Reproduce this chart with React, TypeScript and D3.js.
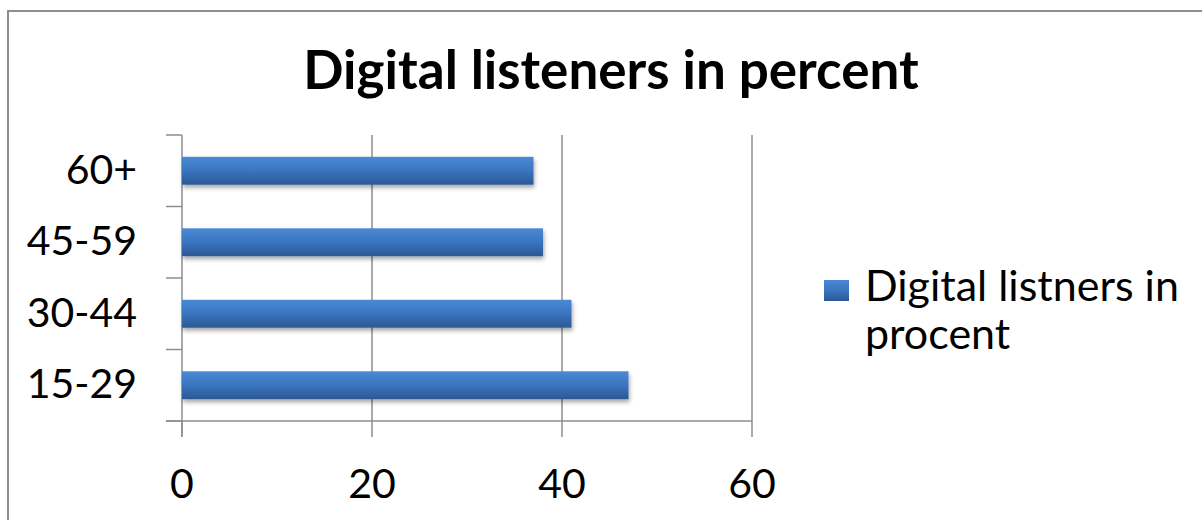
import React from "react";
import * as d3 from "d3";

const categories = ["15-29", "30-44", "45-59", "60+"];
const values = [47, 41, 38, 37];
const xTicks = [0, 20, 40, 60];
const title = "Digital listeners in percent";
const legendLines = ["Digital listners in", "procent"];

const W = 1202;
const H = 520;
const FONT = "Lato, 'Open Sans', sans-serif";
const GRAY = "#8e8e8e";

export default function App() {
  const x = d3.scaleLinear().domain([0, 60]).range([182, 752]);
  const y = d3
    .scaleBand<string>()
    .domain([...categories].reverse())
    .range([135, 421])
    .padding(0);
  const bw = y.bandwidth();
  const barH = bw * 0.39;

  return (
    <svg
      width={W}
      height={H}
      style={{ position: "absolute", left: 0, top: 0, background: "#fff" }}
    >
      <defs>
        <linearGradient id="barGrad" x1="0" y1="0" x2="0" y2="1">
          <stop offset="0%" stopColor="#4a89d4" />
          <stop offset="45%" stopColor="#3b77c2" />
          <stop offset="100%" stopColor="#2b5894" />
        </linearGradient>
        <filter id="shadow" x="-5%" y="-30%" width="110%" height="180%">
          <feDropShadow dx="1" dy="3" stdDeviation="2.2" floodColor="#000" floodOpacity="0.35" />
        </filter>
      </defs>

      {/* chart border */}
      <rect x={8} y={11} width={1210} height={530} fill="#fff" stroke={GRAY} strokeWidth={2} />

      {/* title */}
      <text
        x={611}
        y={89}
        textAnchor="middle"
        fontFamily={FONT}
        fontWeight="bold"
        fontSize={53}
        fill="#000"
      >
        {title}
      </text>

      {/* gridlines */}
      {xTicks.slice(1).map((t) => (
        <line key={"g" + t} x1={x(t)} x2={x(t)} y1={135} y2={421} stroke={GRAY} strokeWidth={1.5} />
      ))}

      {/* x axis */}
      <line x1={166} x2={x(60)} y1={421} y2={421} stroke={GRAY} strokeWidth={1.5} />
      {xTicks.map((t) => (
        <g key={"xt" + t}>
          <line x1={x(t)} x2={x(t)} y1={421} y2={437} stroke={GRAY} strokeWidth={1.5} />
          <text
            x={x(t)}
            y={498}
            textAnchor="middle"
            fontFamily={FONT}
            fontSize={41}
            fill="#000"
          >
            {t}
          </text>
        </g>
      ))}

      {/* y axis */}
      <line x1={182} x2={182} y1={135} y2={437} stroke={GRAY} strokeWidth={1.5} />
      {[...y.domain(), null].map((c, i) => {
        const yy = 135 + i * y.step();
        return <line key={"yt" + i} x1={166} x2={182} y1={yy} y2={yy} stroke={GRAY} strokeWidth={1.5} />;
      })}
      {categories.map((c) => (
        <text
          key={"yl" + c}
          x={137}
          y={(y(c) as number) + bw / 2 + 13}
          textAnchor="end"
          fontFamily={FONT}
          fontSize={41}
          fill="#000"
        >
          {c}
        </text>
      ))}

      {/* bars */}
      {categories.map((c, i) => (
        <rect
          key={"b" + c}
          x={x(0)}
          y={(y(c) as number) + bw / 2 - barH / 2}
          width={x(values[i]) - x(0)}
          height={barH}
          fill="url(#barGrad)"
          filter="url(#shadow)"
        />
      ))}

      {/* legend */}
      <rect x={824} y={280} width={25} height={21} fill="url(#barGrad)" />
      {legendLines.map((l, i) => (
        <text
          key={"lg" + i}
          x={865}
          y={301 + i * 48}
          fontFamily={FONT}
          fontSize={43}
          fill="#000"
        >
          {l}
        </text>
      ))}
    </svg>
  );
}
